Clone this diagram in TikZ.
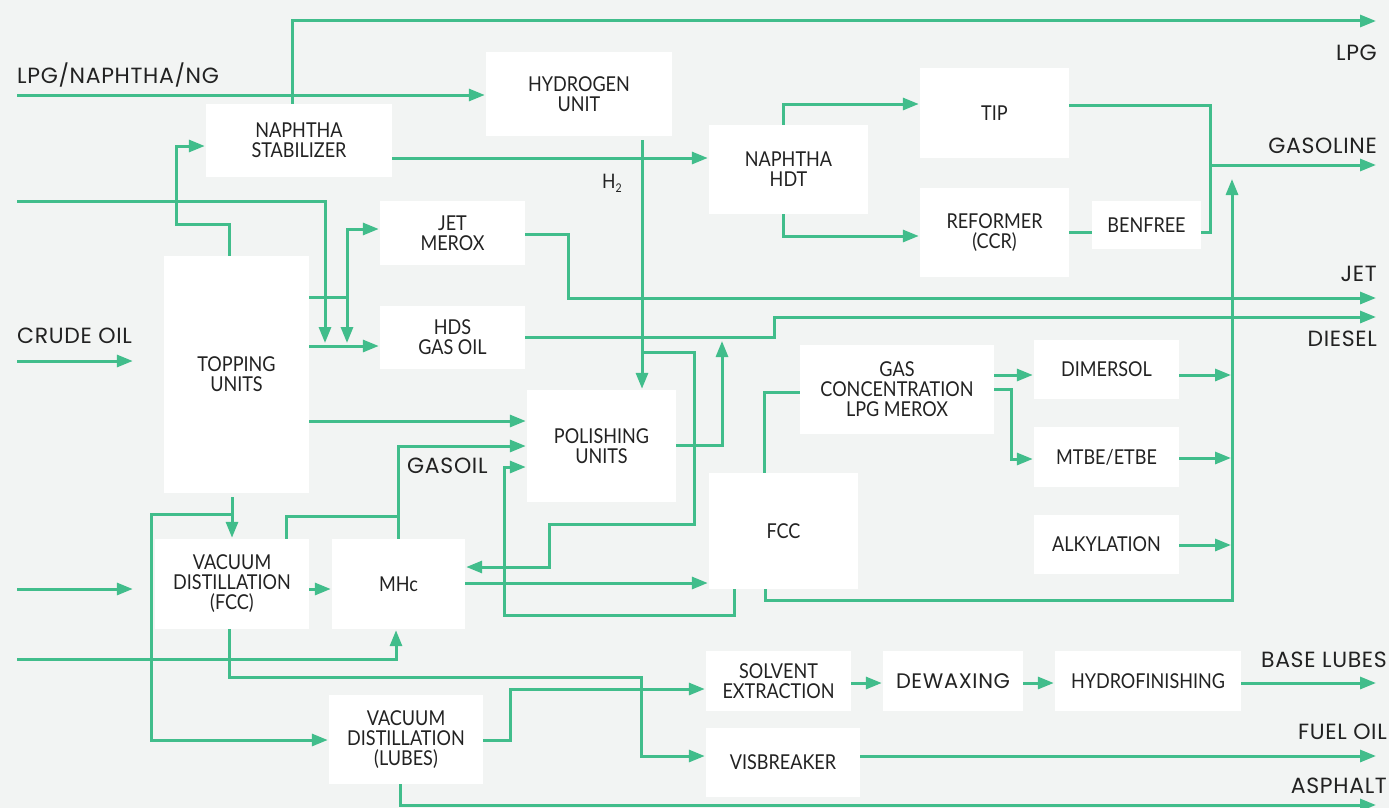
\documentclass[tikz,border=0pt]{standalone}
\usepackage{fontspec}
\setmainfont{Lato}[FakeStretch=0.88]
\newfontfamily\lblfont{Poppins}[LetterSpace=3]
\usetikzlibrary{arrows.meta}
\definecolor{bgc}{HTML}{F2F4F3}
\definecolor{gr}{HTML}{41BD8B}
\definecolor{tx}{HTML}{222222}
\newcommand\unitbox[6]{\node[ubox, minimum width={#4-#2}, minimum height={#5-#3}] (#1) at ({(#2+#4)/2},{(#3+#5)/2}) {#6};}
\begin{document}
\begin{tikzpicture}[x=1pt,y=-1pt,
 flow/.style={draw=gr, line width=3pt},
 arr/.style={flow, -{Triangle[length=16pt,width=12pt]}, shorten >=1pt},
 ubox/.style={fill=white, inner sep=0pt, align=center, text=tx, font=\fontsize{20.5}{20}\selectfont},
 lbl/.style={inner sep=0pt, text=tx, font=\lblfont\fontsize{22}{22}\selectfont}]
\fill[bgc] (0,0) rectangle (1389,808);
\useasboundingbox (0,0) rectangle (1389,808);

% boxes
\unitbox{stab}{206}{104}{392}{177}{NAPHTHA\\STABILIZER}
\unitbox{hyd}{486}{52}{672}{136}{HYDROGEN\\UNIT}
\unitbox{hdt}{709}{125}{868}{214}{NAPHTHA\\HDT}
\unitbox{tip}{920}{68}{1069}{158}{TIP}
\unitbox{ref}{920}{188}{1069}{277}{REFORMER\\(CCR)}
\unitbox{ben}{1092}{201}{1201}{249}{BENFREE}
\unitbox{merox}{380}{201}{525}{265}{JET\\MEROX}
\unitbox{hds}{380}{306}{525}{369}{HDS\\GAS OIL}
\unitbox{topping}{164}{256}{309}{493}{TOPPING\\UNITS}
\unitbox{pol}{527}{390}{676}{502}{POLISHING\\UNITS}
\unitbox{gas}{800}{345}{994}{434}{GAS\\CONCENTRATION\\LPG MEROX}
\unitbox{dim}{1034}{340}{1179}{399}{DIMERSOL}
\unitbox{mtbe}{1034}{427}{1179}{487}{MTBE/ETBE}
\unitbox{alk}{1034}{515}{1179}{574}{ALKYLATION}
\unitbox{fcc}{709}{473}{858}{589}{FCC}
\unitbox{vdf}{155}{539}{309}{629}{VACUUM\\DISTILLATION\\(FCC)}
\unitbox{mhc}{332}{539}{465}{629}{MHc}
\unitbox{vdl}{329}{695}{483}{784}{VACUUM\\DISTILLATION\\(LUBES)}
\unitbox{solv}{706}{651}{851}{711}{SOLVENT\\EXTRACTION}
\unitbox{dew}{883}{651}{1023}{711}{\lblfont\fontsize{21}{21}\selectfont DEWAXING}
\unitbox{hf}{1055}{651}{1241}{711}{HYDROFINISHING}
\unitbox{vis}{706}{728}{860}{797}{VISBREAKER}

% labels
\node[lbl, anchor=base west] (tLPGin) at (17,84) {LPG/NAPHTHA/NG};
\node[lbl, anchor=base west] (tcrude) at (17,343) {CRUDE OIL};
\node[lbl, anchor=base west] (tgasoil) at (407,473) {GASOIL};
\node[lbl, anchor=base east] (tLPG) at (1377,61) {LPG};
\node[lbl, anchor=base east] (tgasoline) at (1377,153) {GASOLINE};
\node[lbl, anchor=base east] (tjet) at (1377,281) {JET};
\node[lbl, anchor=base east] (tdiesel) at (1377,346) {DIESEL};
\node[lbl, anchor=base east] (tbase) at (1387,667) {BASE LUBES};
\node[lbl, anchor=base east] (tfuel) at (1387,739) {FUEL OIL};
\node[lbl, anchor=base east] (tasph) at (1387,793) {ASPHALT};
\node[inner sep=0pt, text=tx, anchor=base west, font=\fontsize{20}{20}\selectfont] (th2) at (602,188) {H\raisebox{-4pt}{\fontsize{12}{12}\selectfont 2}};

% free ends
\coordinate (inLPG) at (17,95);
\coordinate (inA) at (17,201);
\coordinate (inC) at (17,361);
\coordinate (inB) at (17,589);
\coordinate (inD) at (17,659);
\coordinate (outLPG) at (1377,21);
\coordinate (outGAS) at (1377,165);
\coordinate (outJET) at (1377,298);
\coordinate (outDSL) at (1377,317);
\coordinate (outBL) at (1377,683);
\coordinate (outFO) at (1377,756);
\coordinate (outASP) at (1377,805);
\coordinate (jA) at (325,344);
\coordinate (jM) at (347,297);
\coordinate (jG) at (398,516);
\coordinate (jH) at (642,352);
\coordinate (jT) at (232,514);
\coordinate (jGas) at (1210,165);
\coordinate (colTop) at (1232,178);
\coordinate (colBot) at (1232,600);

% connectors
\draw[arr] (inLPG) -- (inLPG -| hyd.west);
\draw[arr] (stab.north -| 292,0) |- (outLPG);
\draw[arr] (inA) -| (jA);
\draw[arr] (topping.north -| 229,0) -- (229,224) -| (176,146) -- (stab.west |- 0,146);
\draw[flow] (topping.east |- jM) -- (jM);
\draw[arr] (jM) |- (merox.west |- 0,229);
\draw[arr] (jM) -- (347,344);
\draw[arr] (topping.east |- 0,346) -- (hds.west |- 0,346);
\draw[arr] (merox.east |- 0,234) -| (568,298) -- (outJET);
\draw[arr] (hds.east |- 0,337) -| (774,317) -- (outDSL);
\draw[arr] (pol.east |- 0,445) -| (722,340);
\draw[arr, shorten <=4pt] (hyd.south -| jH) -- (pol.north -| jH);
\draw[arr] (jH) -| (694,524) -| (549,567) -- (mhc.east |- 0,567);
\draw[arr] (topping.east |- 0,421) -- (pol.west |- 0,421);
\draw[arr] (mhc.north) |- (pol.west |- 0,446);
\draw[flow] (vdf.north -| 286,0) |- (jG);
\draw[arr] (fcc.south -| 734,0) |- (504,615) |- (pol.west |- 0,467);
\draw[arr] (mhc.east |- 0,583) -- (fcc.west |- 0,583);
\draw[flow] (fcc.north -| 764,0) |- (gas.west |- 0,392);
\draw[arr] (fcc.south -| 765,0) |- (colBot) -- (colTop);
\draw[arr] (gas.east |- 0,375) -- (dim.west |- 0,375);
\draw[arr] (gas.east |- 0,389) -| (1011,459) -- (mtbe.west |- 0,459);
\draw[arr] (dim.east |- 0,375) -- (colTop |- 0,375);
\draw[arr] (mtbe.east |- 0,458) -- (colTop |- 0,458);
\draw[arr] (alk.east |- 0,545) -- (colTop |- 0,545);
\draw[arr] (stab.east |- 0,158) -- (hdt.west |- 0,158);
\draw[arr] (hdt.north -| 783,0) |- (tip.west |- 0,104);
\draw[arr] (hdt.south -| 783,0) |- (ref.west |- 0,236);
\draw[flow] (ref.east |- 0,232) -- (ben.west |- 0,232);
\draw[flow] (tip.east |- 0,105) -| (1210,232) -- (ben.east |- 0,232);
\draw[arr] (jGas) -- (outGAS);
\draw[arr, shorten <=4pt] (topping.south -| 232,0) -- (vdf.north -| 232,0);
\draw[arr] (jT) -| (151,740) -- (vdl.west |- 0,740);
\draw[arr, shorten >=22pt] (inB) -- (vdf.west |- inB);
\draw[arr, shorten >=31pt] (inC) -- (topping.west |- inC);
\draw[arr] (vdf.east |- 0,589) -- (mhc.west |- 0,589);
\draw[arr] (inD) -| (mhc.south -| 396,0);
\draw[arr] (vdf.south -| 229,0) |- (641,677) |- (vis.west |- 0,756);
\draw[arr] (vdl.east |- 0,740) -| (510,689) -- (solv.west |- 0,689);
\draw[arr] (vdl.south -| 400,0) |- (outASP);
\draw[arr] (solv.east |- 0,683) -- (dew.west |- 0,683);
\draw[arr] (dew.east |- 0,683) -- (hf.west |- 0,683);
\draw[arr] (hf.east |- 0,683) -- (outBL);
\draw[arr] (vis.east |- 0,756) -- (outFO);
\end{tikzpicture}
\end{document}
